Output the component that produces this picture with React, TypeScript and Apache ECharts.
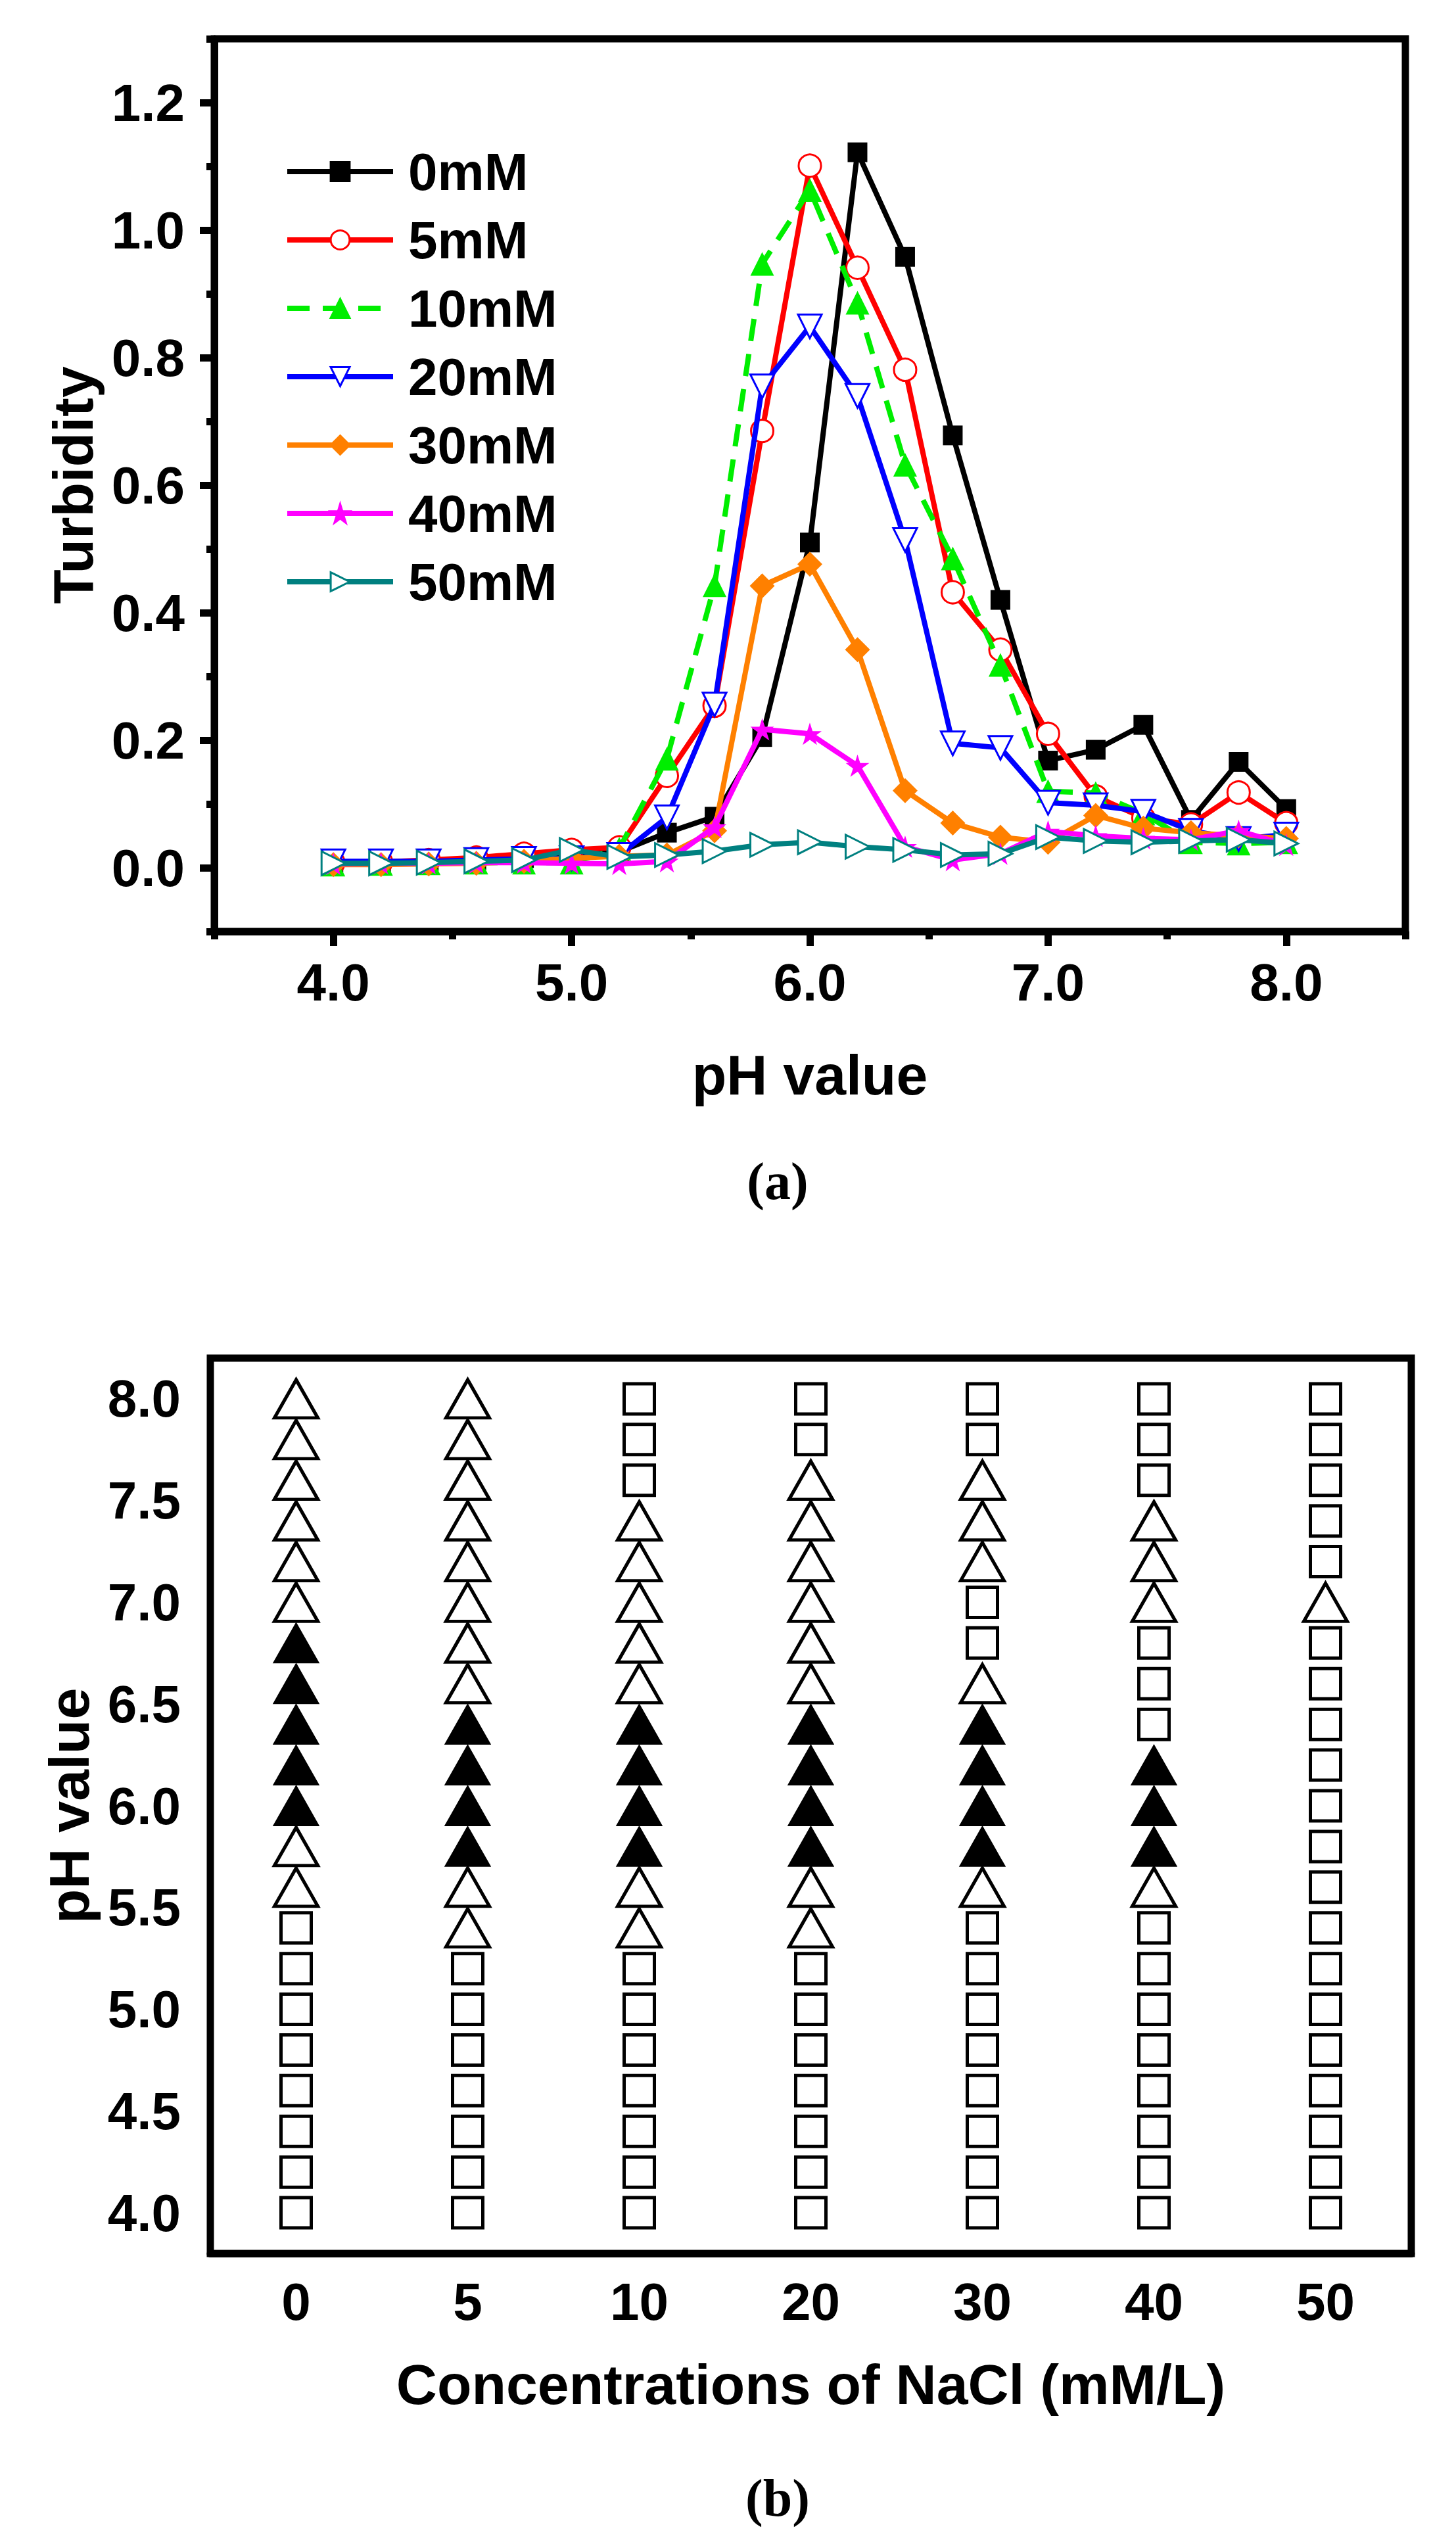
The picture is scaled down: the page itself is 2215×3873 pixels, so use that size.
import React, { useEffect, useRef } from 'react';
import * as echarts from 'echarts';

// pH steps shared by both panels
const phValues = [4.0, 4.2, 4.4, 4.6, 4.8, 5.0, 5.2, 5.4, 5.6, 5.8, 6.0, 6.2, 6.4, 6.6, 6.8, 7.0, 7.2, 7.4, 7.6, 7.8, 8.0];

// (a) turbidity vs pH, one list per NaCl concentration
const saltNames = ['0mM', '5mM', '10mM', '20mM', '30mM', '40mM', '50mM'];
const turbidity0 = [0.008, 0.008, 0.010, 0.012, 0.015, 0.020, 0.025, 0.055, 0.080, 0.205, 0.510, 1.122, 0.958, 0.678, 0.420, 0.168, 0.185, 0.224, 0.075, 0.166, 0.092];
const turbidity5 = [0.008, 0.009, 0.012, 0.016, 0.022, 0.028, 0.032, 0.144, 0.254, 0.685, 1.101, 0.941, 0.781, 0.432, 0.342, 0.210, 0.112, 0.078, 0.068, 0.118, 0.070];
const turbidity10 = [0.005, 0.006, 0.007, 0.008, 0.008, 0.008, 0.030, 0.171, 0.443, 0.947, 1.063, 0.886, 0.632, 0.485, 0.318, 0.120, 0.117, 0.085, 0.040, 0.038, 0.040];
const turbidity20 = [0.010, 0.010, 0.010, 0.012, 0.014, 0.015, 0.020, 0.079, 0.256, 0.755, 0.849, 0.740, 0.514, 0.195, 0.188, 0.102, 0.098, 0.088, 0.058, 0.045, 0.052];
const turbidity30 = [0.005, 0.005, 0.006, 0.007, 0.010, 0.015, 0.018, 0.020, 0.058, 0.442, 0.476, 0.342, 0.121, 0.070, 0.048, 0.040, 0.082, 0.062, 0.055, 0.050, 0.046];
const turbidity40 = [0.006, 0.007, 0.007, 0.008, 0.008, 0.007, 0.006, 0.010, 0.064, 0.217, 0.210, 0.160, 0.033, 0.012, 0.022, 0.057, 0.050, 0.046, 0.044, 0.058, 0.036];
const turbidity50 = [0.007, 0.007, 0.008, 0.010, 0.012, 0.028, 0.017, 0.020, 0.026, 0.036, 0.040, 0.033, 0.028, 0.020, 0.022, 0.048, 0.042, 0.040, 0.042, 0.044, 0.038];

const turbidityTicks = [0, 0.2, 0.4, 0.6, 0.8, 1.0, 1.2];
const turbidityMinorTicks = [-0.1, 0.1, 0.3, 0.5, 0.7, 0.9, 1.1, 1.3];
const phTicksA = [4, 5, 6, 7, 8];
const phMinorTicksA = [3.5, 4.5, 5.5, 6.5, 7.5, 8.5];

// (b) phase diagram: one code per pH step (4.0 -> 8.0)
// S = open square, T = open triangle, P = filled triangle
const naclLabels = ['0', '5', '10', '20', '30', '40', '50'];
const phase0 = 'SSSSSSSSTTPPPPPTTTTTT';
const phase5 = 'SSSSSSSTTPPPPTTTTTTTT';
const phase10 = 'SSSSSSSTTPPPPTTTTTSSS';
const phase20 = 'SSSSSSSTTPPPPTTTTTTSS';
const phase30 = 'SSSSSSSSTPPPPTSSTTTSS';
const phase40 = 'SSSSSSSSTPPPSSSTTTSSS';
const phase50 = 'SSSSSSSSSSSSSSSTSSSSS';
const phTicksB = [4.0, 4.5, 5.0, 5.5, 6.0, 6.5, 7.0, 7.5, 8.0];
const phMinorTicksB = [4.25, 4.75, 5.25, 5.75, 6.25, 6.75, 7.25, 7.75];

const STAR = 'path://M50,0 L61,35 L98,35 L68,57 L79,91 L50,70 L21,91 L32,57 L2,35 L39,35 Z';

const FONT = 'Liberation Sans';
const lineBlack = { color: '#000', width: 11 };

export default function App() {
  const ref = useRef<HTMLDivElement>(null);

  useEffect(() => {
    document.body.style.margin = '0';
    if (!ref.current) return;
    const chart = echarts.init(ref.current, undefined, { renderer: 'svg' });

    const turbidity = [turbidity0, turbidity5, turbidity10, turbidity20, turbidity30, turbidity40, turbidity50];
    const looks = [
      { color: '#000000', symbol: 'rect', size: 30, fill: '#000000', rotate: 0 },
      { color: '#ff0000', symbol: 'circle', size: 34, fill: '#ffffff', rotate: 0 },
      { color: '#00ee00', symbol: 'triangle', size: 36, fill: '#00ee00', rotate: 0, dashed: true },
      { color: '#0000ff', symbol: 'triangle', size: 36, fill: '#ffffff', rotate: 180 },
      { color: '#ff8000', symbol: 'diamond', size: 38, fill: '#ff8000', rotate: 0 },
      { color: '#ff00ff', symbol: STAR, size: 36, fill: '#ff00ff', rotate: 0 },
      { color: '#008080', symbol: 'triangle', size: 36, fill: '#ffffff', rotate: -90 },
    ];

    const lineSeries = saltNames.map((name, k) => {
      const lk = looks[k];
      return {
        name,
        type: 'line',
        xAxisIndex: 0,
        yAxisIndex: 0,
        data: phValues.map((p, i) => [p, turbidity[k][i]]),
        symbol: lk.symbol,
        symbolSize: lk.size,
        symbolRotate: lk.rotate,
        symbolKeepAspect: true,
        showAllSymbol: true,
        lineStyle: { color: lk.color, width: 8, type: lk.dashed ? [34, 20] : 'solid' },
        itemStyle: { color: lk.fill, borderColor: lk.color, borderWidth: lk.fill === '#ffffff' ? 3 : 0 },
        z: 3 + k,
      };
    });

    const phases = [phase0, phase5, phase10, phase20, phase30, phase40, phase50];
    const squares: number[][] = [];
    const openTri: number[][] = [];
    const fullTri: number[][] = [];
    phases.forEach((codes, c) => {
      codes.split('').forEach((code, i) => {
        const pt = [c, phValues[i]];
        if (code === 'S') squares.push(pt);
        else if (code === 'T') openTri.push(pt);
        else fullTri.push(pt);
      });
    });

    const tickLabel = { fontSize: 80, fontWeight: 'bold', color: '#000', fontFamily: FONT };
    const nameStyle = { fontSize: 86, fontWeight: 'bold', color: '#000', fontFamily: FONT };

    chart.setOption({
      animation: false,
      backgroundColor: '#fff',
      textStyle: { fontFamily: FONT },
      grid: [
        { left: 326, top: 59, width: 1812, height: 1358, show: true, borderColor: '#000', borderWidth: 11 },
        { left: 320, top: 2066, width: 1827, height: 1362, show: true, borderColor: '#000', borderWidth: 11 },
      ],
      legend: {
        orient: 'vertical',
        left: 428,
        top: 216,
        itemWidth: 161,
        itemHeight: 36,
        itemGap: 24,
        lineStyle: { width: 8 },
        itemStyle: { borderWidth: 3 },
        textStyle: { ...tickLabel, lineHeight: 80, padding: [0, 0, 0, 18] },
        data: saltNames,
      },
      xAxis: [
        {
          gridIndex: 0, type: 'value', min: 3.5, max: 8.5, interval: 0.5,
          name: 'pH value', nameLocation: 'middle', nameGap: 175, nameTextStyle: nameStyle,
          axisLine: { onZero: false, lineStyle: lineBlack },
          axisTick: { customValues: phTicksA, length: 22, lineStyle: lineBlack },
          axisLabel: { ...tickLabel, customValues: phTicksA, margin: 37, formatter: (v: number) => v.toFixed(1) },
          splitLine: { show: false },
        },
        {
          gridIndex: 0, type: 'value', min: 3.5, max: 8.5, interval: 0.5, position: 'bottom',
          axisLine: { show: false, onZero: false },
          axisTick: { customValues: phMinorTicksA, length: 12, lineStyle: lineBlack },
          axisLabel: { show: false },
          splitLine: { show: false },
        },
        {
          gridIndex: 1, type: 'category', data: naclLabels, boundaryGap: true,
          name: 'Concentrations of NaCl (mM/L)', nameLocation: 'middle', nameGap: 156, nameTextStyle: nameStyle,
          axisLine: { onZero: false, lineStyle: lineBlack },
          axisTick: { alignWithLabel: true, length: 22, lineStyle: lineBlack },
          axisLabel: { ...tickLabel, margin: 33 },
          splitLine: { show: false },
        },
        {
          gridIndex: 1, type: 'category', data: naclLabels, boundaryGap: true, position: 'bottom',
          axisLine: { show: false, onZero: false },
          axisTick: { length: 10, lineStyle: lineBlack },
          axisLabel: { show: false },
          splitLine: { show: false },
        },
      ],
      yAxis: [
        {
          gridIndex: 0, type: 'value', min: -0.1, max: 1.3, interval: 0.1,
          name: 'Turbidity', nameLocation: 'middle', nameGap: 172, nameTextStyle: nameStyle,
          axisLine: { onZero: false, lineStyle: lineBlack },
          axisTick: { customValues: turbidityTicks, length: 22, lineStyle: lineBlack },
          axisLabel: { ...tickLabel, customValues: turbidityTicks, margin: 45, formatter: (v: number) => v.toFixed(1) },
          splitLine: { show: false },
        },
        {
          gridIndex: 0, type: 'value', min: -0.1, max: 1.3, interval: 0.1, position: 'left',
          axisLine: { show: false, onZero: false },
          axisTick: { customValues: turbidityMinorTicks, length: 12, lineStyle: lineBlack },
          axisLabel: { show: false },
          splitLine: { show: false },
        },
        {
          gridIndex: 1, type: 'value', min: 3.8, max: 8.2, interval: 0.05,
          name: 'pH value', nameLocation: 'middle', nameGap: 172, nameTextStyle: nameStyle,
          axisLine: { onZero: false, lineStyle: lineBlack },
          axisTick: { customValues: phTicksB, length: 24, lineStyle: lineBlack },
          axisLabel: { ...tickLabel, customValues: phTicksB, margin: 45, formatter: (v: number) => v.toFixed(1) },
          splitLine: { show: false },
        },
        {
          gridIndex: 1, type: 'value', min: 3.8, max: 8.2, interval: 0.05, position: 'left',
          axisLine: { show: false, onZero: false },
          axisTick: { customValues: phMinorTicksB, length: 12, lineStyle: lineBlack },
          axisLabel: { show: false },
          splitLine: { show: false },
        },
      ],
      series: [
        ...lineSeries,
        {
          type: 'scatter', xAxisIndex: 2, yAxisIndex: 2, data: squares,
          symbol: 'rect', symbolSize: 46,
          itemStyle: { color: '#fff', borderColor: '#000', borderWidth: 5, opacity: 1 },
        },
        {
          type: 'scatter', xAxisIndex: 2, yAxisIndex: 2, data: openTri,
          symbol: 'triangle', symbolSize: [66, 58],
          itemStyle: { color: '#fff', borderColor: '#000', borderWidth: 5, opacity: 1 },
        },
        {
          type: 'scatter', xAxisIndex: 2, yAxisIndex: 2, data: fullTri,
          symbol: 'triangle', symbolSize: [68, 60],
          itemStyle: { color: '#000', borderColor: '#000', borderWidth: 2, opacity: 1 },
        },
      ],
      graphic: [
        {
          type: 'text', x: 1183, y: 1797,
          style: { text: '(a)', font: 'bold 80px "Liberation Serif"', fill: '#000', textAlign: 'center', textVerticalAlign: 'middle' },
        },
        {
          type: 'text', x: 1183, y: 3800,
          style: { text: '(b)', font: 'bold 80px "Liberation Serif"', fill: '#000', textAlign: 'center', textVerticalAlign: 'middle' },
        },
      ],
    });

    return () => chart.dispose();
  }, []);

  return <div ref={ref} style={{ width: 2215, height: 3873 }} />;
}
